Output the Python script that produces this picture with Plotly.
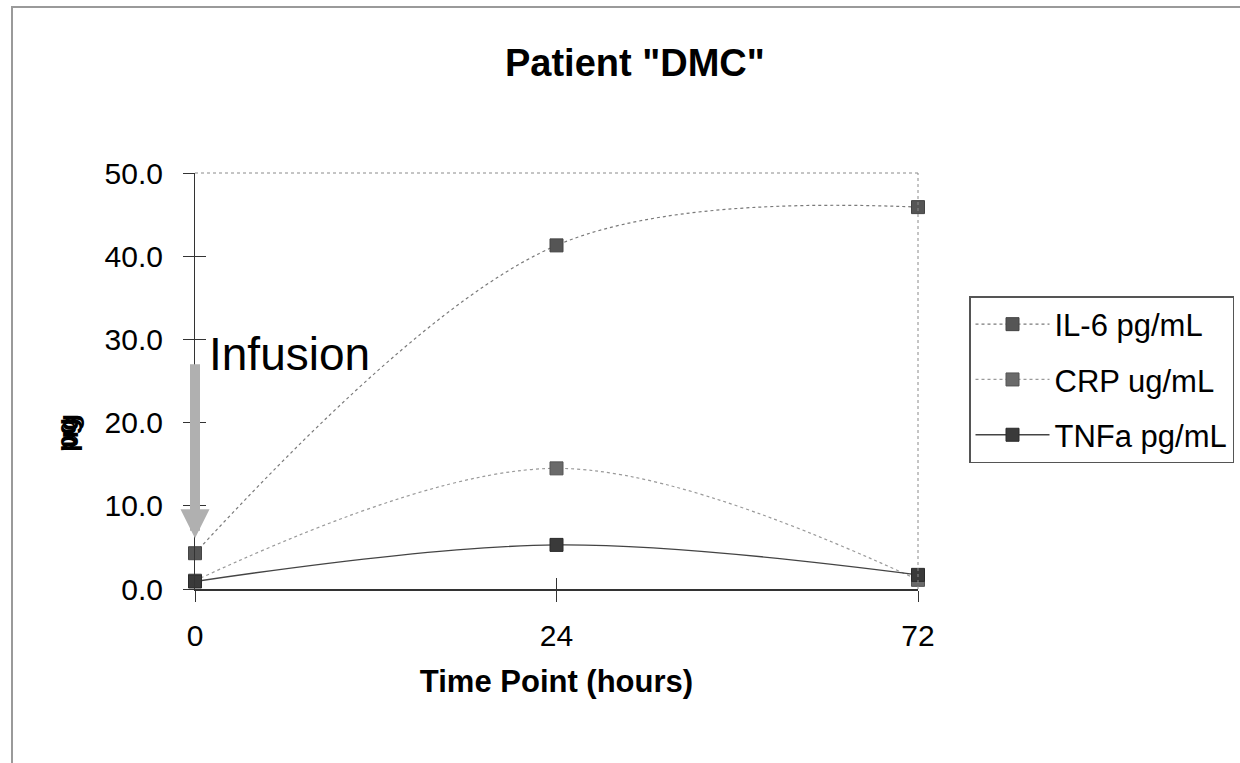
import plotly.graph_objects as go

# Sampling times (hours) and measured levels per marker
time_points = ["0", "24", "72"]
il6_pg_ml = [4.3, 41.3, 45.9]
crp_ug_ml = [1.0, 14.5, 1.1]
tnfa_pg_ml = [0.9, 5.3, 1.7]

series_names = ["IL-6 pg/mL", "CRP ug/mL", "TNFa pg/mL"]

# Infusion arrow: level where the shaft starts and where the tip points
arrow_top = 27.2
arrow_tip = 6.1

FONT = "Liberation Sans, Arial, sans-serif"

fig = go.Figure()

styles = [
    dict(line=dict(color="#7a7a7a", width=1.2, dash="dot", shape="spline", smoothing=1.0),
         marker=dict(symbol="square", size=13, color="#555555", line=dict(color="#444444", width=1))),
    dict(line=dict(color="#9a9a9a", width=1.2, dash="dot", shape="spline", smoothing=1.0),
         marker=dict(symbol="square", size=13, color="#6a6a6a", line=dict(color="#555555", width=1))),
    dict(line=dict(color="#444444", width=1.4, shape="spline", smoothing=1.0),
         marker=dict(symbol="square", size=13, color="#3a3a3a", line=dict(color="#2a2a2a", width=1))),
]

for name, vals, st in zip(series_names, [il6_pg_ml, crp_ug_ml, tnfa_pg_ml], styles):
    fig.add_trace(go.Scatter(
        x=time_points, y=vals, name=name, mode="lines+markers",
        line=st["line"], marker=st["marker"], cliponaxis=False,
        legendgroup=name,
    ))

# Second pair of axes, used only for the inner half of the cross tick marks
fig.add_trace(go.Scatter(x=time_points, y=il6_pg_ml, xaxis="x2", yaxis="y2",
                         mode="markers", marker=dict(opacity=0), showlegend=False,
                         hoverinfo="skip"))

plot_left, plot_right, plot_top, plot_bottom = 195, 918, 173, 589
W, H = 1240, 763
pw = plot_right - plot_left
ph = plot_bottom - plot_top


def px_x(px):
    return (px - plot_left) / pw


def px_y(py):
    return (plot_bottom - py) / ph


shapes = [
    # outer chart frame
    dict(type="rect", xref="paper", yref="paper",
         x0=px_x(12), x1=px_x(1250), y0=px_y(775), y1=px_y(7),
         line=dict(color="#9a9a9a", width=2), fillcolor="rgba(0,0,0,0)", layer="below"),
    # plot area frame (top and right edges)
    dict(type="line", xref="paper", yref="paper", x0=0, x1=1, y0=1, y1=1,
         line=dict(color="#8a8a8a", width=1, dash="dot")),
    dict(type="line", xref="paper", yref="paper", x0=1, x1=1, y0=0, y1=1,
         line=dict(color="#8a8a8a", width=1, dash="dot")),
]

annotations = [
    # thick grey arrow marking the infusion at time 0
    dict(text="", x=0, y=arrow_tip, xref="x", yref="y",
         ax=0, ay=arrow_top, axref="x", ayref="y",
         showarrow=True, arrowhead=2, arrowwidth=10, arrowsize=0.58,
         arrowcolor="#b0b0b0", standoff=0, startstandoff=0),
    dict(text="Infusion", xref="paper", yref="paper", x=px_x(207), y=px_y(354),
         xanchor="left", yanchor="middle", showarrow=False,
         font=dict(family=FONT, size=46, color="#000000")),
    dict(text="<b>ug</b>", xref="paper", yref="paper", x=px_x(68), y=px_y(431),
         xanchor="center", yanchor="middle", showarrow=False, textangle=-90,
         font=dict(family=FONT, size=28, color="#000000")),
    dict(text="<b>pg</b>", xref="paper", yref="paper", x=px_x(66), y=px_y(435),
         xanchor="center", yanchor="middle", showarrow=False, textangle=-90,
         font=dict(family=FONT, size=28, color="#000000")),
]

fig.update_layout(
    width=W, height=H,
    margin=dict(l=plot_left, r=W - plot_right, t=plot_top, b=H - plot_bottom,
                pad=0, autoexpand=False),
    paper_bgcolor="white", plot_bgcolor="white",
    font=dict(family=FONT, color="#000000"),
    title=dict(text='<b>Patient "DMC"</b>', x=0.512, xanchor="center",
               y=1 - 63 / H, yanchor="middle", font=dict(family=FONT, size=38)),
    xaxis=dict(type="category", range=[0, 2], showgrid=False, zeroline=False,
               showline=True, linecolor="#333333", linewidth=1.5,
               ticks="outside", ticklen=11, tickcolor="#333333", tickwidth=1,
               tickfont=dict(family=FONT, size=30), ticklabelstandoff=8,
               title=dict(text="<b>Time Point (hours)</b>", standoff=20,
                          font=dict(family=FONT, size=31))),
    yaxis=dict(range=[0, 50], dtick=10, tickformat=".1f", showgrid=False, zeroline=False,
               showline=True, linecolor="#333333", linewidth=1,
               ticks="outside", ticklen=11, tickcolor="#333333", tickwidth=1,
               tickfont=dict(family=FONT, size=30), ticklabelstandoff=14),
    xaxis2=dict(type="category", overlaying="x", matches="x", range=[0, 2],
                showgrid=False, zeroline=False, showline=False, showticklabels=False,
                ticks="inside", ticklen=11, tickcolor="#333333", tickwidth=1, side="bottom"),
    yaxis2=dict(overlaying="y", matches="y", range=[0, 50], dtick=10, showgrid=False,
                zeroline=False, showline=False, showticklabels=False,
                ticks="inside", ticklen=11, tickcolor="#333333", tickwidth=1, side="left"),
    legend=dict(x=px_x(969), y=px_y(296), xanchor="left", yanchor="top",
                bordercolor="#555555", borderwidth=1.5, bgcolor="white",
                font=dict(family=FONT, size=31), itemwidth=74,
                traceorder="grouped", tracegroupgap=12),
    shapes=shapes,
    annotations=annotations,
    showlegend=True,
)

fig.write_html("out.html")
